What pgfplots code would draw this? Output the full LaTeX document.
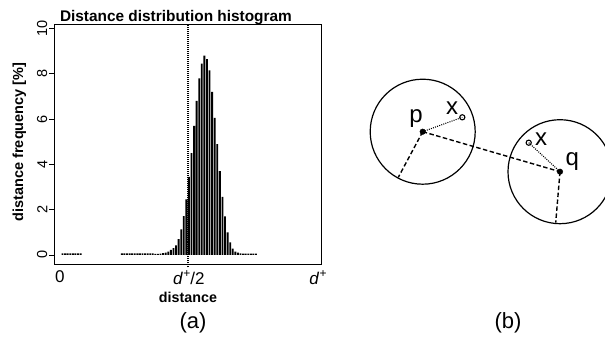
\documentclass[border=0pt]{standalone}
\usepackage{pgfplots}
\pgfplotsset{compat=1.18}
\usepackage{fontspec}
\setmainfont{Liberation Sans}
\newcommand\tkf{\fontsize{14.5bp}{16bp}\selectfont}
\newcommand\xkf{\fontsize{17bp}{19bp}\selectfont}
\newcommand\dplus{\textit{d}\kern0.3bp\raisebox{6.5bp}{\fontsize{12bp}{12bp}\selectfont +}}
\begin{document}
\begin{tikzpicture}
\path[use as bounding box] (0bp,0bp) rectangle (605bp,-337bp);
% ---------------- panel (a)
\begin{axis}[
  at={(54bp,-264bp)}, anchor=south west,
  scale only axis, width=267bp, height=240bp,
  xmin=-2.3, xmax=101.2, ymin=-0.4, ymax=10.2,
  axis line style={line width=0.9pt},
  ytick={0,2,4,6,8,10},
  yticklabels={{\tkf 0},{\tkf 2},{\tkf 4},{\tkf 6},{\tkf 8},{\tkf 10}},
  ytick pos=left, tick align=outside, major tick length=5bp,
  tick style={line width=0.8pt,black},
  yticklabel style={rotate=90, anchor=south, inner sep=1.5bp},
  xtick={0,50,100},
  xticklabels={{\xkf 0},{\xkf\dplus/2},{\xkf\dplus}},
  xtick style={draw=none},
  xticklabel style={yshift=-0.5bp, inner sep=1bp},
  clip=false,
]
\addplot[ybar, bar width=0.72, fill=black, draw=none] coordinates {
 (1,0.07) (2,0.07) (3,0.07) (4,0.07) (5,0.07) (6,0.07) (7,0.07) (8,0.07)
 (24,0.07) (25,0.07) (26,0.07) (27,0.07) (28,0.07) (29,0.07) (30,0.07) (31,0.07)
 (32,0.07) (33,0.07) (34,0.07) (35,0.07) (36,0.07) (37,0.05) (38,0.05) (39,0.06)
 (40,0.08) (41,0.1) (42,0.15) (43,0.22) (44,0.3) (45,0.42) (46,0.7) (47,1.13)
 (48,1.72) (49,2.45) (50,3.45) (51,4.5) (52,5.7) (53,6.8) (54,7.8) (55,8.45)
 (56,8.8) (57,8.65) (58,8.15) (59,7.2) (60,6.05) (61,4.9) (62,3.7) (63,2.57)
 (64,1.7) (65,1.0) (66,0.55) (67,0.28) (68,0.15) (69,0.1) (70,0.07) (71,0.06)
 (72,0.06) (73,0.06) (74,0.06) (75,0.06) (76,0.06)
};
\addplot[black, line width=1.4pt, dash pattern=on 1pt off 1pt] coordinates {(49.7,-0.55) (49.7,10.2)};
\end{axis}
\node[font=\bfseries\fontsize{15.4bp}{17bp}\selectfont, anchor=base west] at (56.5bp,-21bp) {Distance distribution histogram};
\node[font=\bfseries\fontsize{14.3bp}{16bp}\selectfont, anchor=base] at (188bp,-302bp) {distance};
\node[font=\bfseries\fontsize{14.5bp}{16bp}\selectfont, rotate=90, anchor=base] at (23bp,-142bp) {distance frequency [\%]};
\node[font=\fontsize{22bp}{24bp}\selectfont] at (193bp,-323bp) {(a)};
\node[font=\fontsize{22bp}{24bp}\selectfont] at (508bp,-323bp) {(b)};
% ---------------- panel (b)
\begin{axis}[
  at={(340bp,-300bp)}, anchor=south west,
  scale only axis, width=265bp, height=260bp,
  xmin=0, xmax=265, ymin=0, ymax=260,
  axis lines=none, clip=false,
]
\draw[line width=1.2pt] (axis cs:82.7,168.3) circle[radius=52.5];
\draw[line width=1.2pt] (axis cs:220,128.3) circle[radius=52];
\addplot[black, line width=1.4pt, dash pattern=on 4.5pt off 2.5pt] coordinates {(82.7,168.3) (220,128.3)};
\addplot[black, line width=1.4pt, dash pattern=on 4.5pt off 2.5pt] coordinates {(82.7,168.3) (58.3,122.7)};
\addplot[black, line width=1.4pt, dash pattern=on 4.5pt off 2.5pt] coordinates {(220,128.3) (215.7,77.3)};
\addplot[black, line width=1.1pt, dash pattern=on 1pt off 1.2pt] coordinates {(82.7,168.3) (122.3,182.7)};
\addplot[black, line width=1.1pt, dash pattern=on 1pt off 1.2pt] coordinates {(220,128.3) (188.7,157.3)};
\addplot[only marks, mark=*, mark size=2.8bp, black] coordinates {(82.7,168.3) (220,128.3)};
\addplot[only marks, mark=o, mark size=2.6bp, black, mark options={line width=1.1pt, fill=white}] coordinates {(122.3,182.7) (188.7,157.3)};
\node[font=\fontsize{24bp}{26bp}\selectfont, anchor=base] at (axis cs:76,177.6) {p};
\node[font=\fontsize{24bp}{26bp}\selectfont, anchor=base] at (axis cs:112,186) {x};
\node[font=\fontsize{24bp}{26bp}\selectfont, anchor=base] at (axis cs:201,155) {x};
\node[font=\fontsize{24bp}{26bp}\selectfont, anchor=base] at (axis cs:232.3,134.3) {q};
\end{axis}
\end{tikzpicture}
\end{document}
